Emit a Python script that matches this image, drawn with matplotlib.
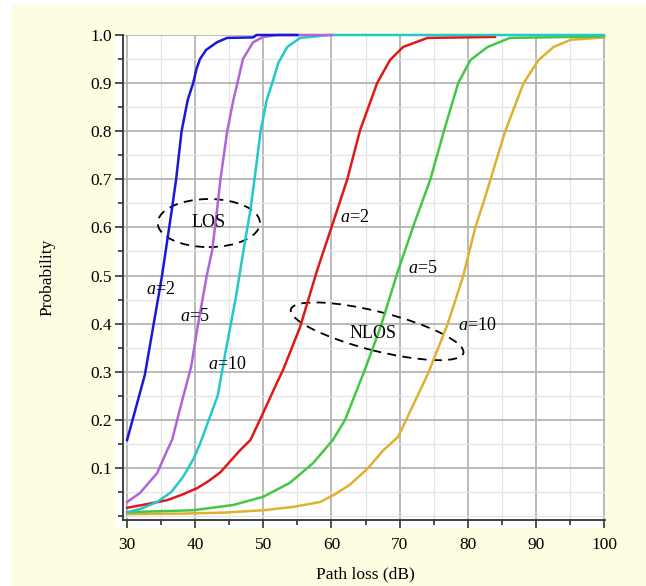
import numpy as np
import matplotlib
matplotlib.use("Agg")
import matplotlib.pyplot as plt
from matplotlib.patches import Ellipse, Rectangle
from matplotlib.transforms import IdentityTransform
from matplotlib.ticker import MultipleLocator, FixedLocator

plt.rcParams['font.family'] = ['Liberation Serif', 'DejaVu Serif']
plt.rcParams['mathtext.fontset'] = 'custom'
plt.rcParams['mathtext.it'] = 'Liberation Serif:italic'
plt.rcParams['mathtext.rm'] = 'Liberation Serif'

# LOS curves
los2_x = [30, 32.6, 35.1, 36.6, 37.2, 38.0, 38.9, 39.7, 40.2, 40.7, 41.6, 43.2, 44.7, 48.5, 49.0, 55.0]
los2_p = [0.158, 0.293, 0.497, 0.64, 0.70, 0.80, 0.865, 0.90, 0.93, 0.95, 0.969, 0.985, 0.994, 0.995, 1.0, 1.0]

los5_x = [30, 31.9, 34.4, 35.9, 36.6, 38.1, 39.4, 40.4, 41.7, 42.5, 43.2, 43.7, 44.7, 45.6, 46.2, 47.0, 48.5, 50.0, 52.0, 60.0]
los5_p = [0.029, 0.048, 0.089, 0.137, 0.158, 0.241, 0.31, 0.397, 0.50, 0.553, 0.636, 0.70, 0.80, 0.865, 0.90, 0.95, 0.985, 0.996, 1.0, 1.0]

los10_x = [30, 32.0, 34.4, 36.5, 38.2, 39.8, 40.7, 42.0, 43.3, 44.5, 45.9, 47.1, 48.1, 48.7, 49.6, 50.5, 51.3, 52.2, 53.5, 55.4, 59.8, 100]
los10_p = [0.008, 0.015, 0.029, 0.05, 0.081, 0.12, 0.15, 0.20, 0.25, 0.345, 0.449, 0.553, 0.636, 0.70, 0.80, 0.865, 0.90, 0.942, 0.975, 0.994, 1.0, 1.0]

# NLOS curves
nlos2_x = [30, 33, 35.9, 38, 40.3, 42, 43.7, 46.6, 48.1, 49.5, 52.0, 52.9, 55.4, 57.9, 60.0, 62.3, 64.2, 66.7, 68.6, 70.5, 74.1, 84]
nlos2_p = [0.017, 0.025, 0.033, 0.044, 0.058, 0.073, 0.091, 0.137, 0.158, 0.2, 0.277, 0.304, 0.393, 0.511, 0.60, 0.699, 0.802, 0.9, 0.948, 0.975, 0.994, 0.996]

nlos5_x = [30, 35, 39.7, 45.6, 50.0, 53.9, 57.3, 60.2, 62.0, 64.9, 67.2, 69.8, 72.2, 74.5, 76.5, 78.6, 80.4, 82.9, 86.2, 100]
nlos5_p = [0.008, 0.01, 0.012, 0.023, 0.04, 0.069, 0.11, 0.158, 0.2, 0.304, 0.393, 0.511, 0.61, 0.699, 0.80, 0.90, 0.948, 0.975, 0.994, 0.997]

nlos10_x = [30, 38, 44.1, 50.0, 54.4, 58.3, 60.5, 62.7, 65.4, 67.5, 69.8, 74.2, 77.0, 79.3, 81.1, 82.6, 85.5, 88.2, 90.4, 92.6, 95.1, 100]
nlos10_p = [0.004, 0.005, 0.007, 0.012, 0.019, 0.029, 0.045, 0.065, 0.10, 0.135, 0.165, 0.297, 0.397, 0.497, 0.599, 0.665, 0.80, 0.90, 0.948, 0.975, 0.99, 0.995]

y_ticks = [0.1, 0.2, 0.3, 0.4, 0.5, 0.6, 0.7, 0.8, 0.9, 1.0]
x_ticks = [30, 40, 50, 60, 70, 80, 90, 100]

W, H = 646, 586
fig = plt.figure(figsize=(W / 100, H / 100), dpi=100, facecolor='white')
fig.patches.append(Rectangle((12 / W, 0), 1 - 12 / W, 1 - 5 / H, transform=fig.transFigure,
                             facecolor='#fdfde2', edgecolor='none', zorder=-2))
fig.patches.append(Rectangle((115 / W, (H - 528) / H), (605 - 115) / W, (528 - 35) / H,
                             transform=fig.transFigure, facecolor='white', edgecolor='none', zorder=-1))

ax = fig.add_axes([123 / W, (H - 520) / H, (605 - 123) / W, (520 - 35) / H])
ax.set_facecolor('white')
ax.set_xlim(29.4, 100.15)
ax.set_ylim(-0.0083, 1.0)

ax.xaxis.set_major_locator(FixedLocator(x_ticks))
ax.xaxis.set_minor_locator(MultipleLocator(5))
ax.yaxis.set_major_locator(FixedLocator(y_ticks))
ax.yaxis.set_minor_locator(MultipleLocator(0.05))
ax.set_yticklabels(['%.1f' % v for v in y_ticks])
ax.grid(which='major', color='#b4b4b4', linewidth=1.3)
ax.grid(which='minor', color='#e4e4e4', linewidth=0.9)
ax.set_axisbelow(True)
ax.tick_params(which='major', direction='out', length=6, width=1.2, color='#333333',
               labelsize=12.5, pad=2)
ax.tick_params(axis='x', which='major', pad=6)
ax.tick_params(which='minor', direction='out', length=3.5, width=1.2, color='#333333')
for s in ['top', 'right']:
    ax.spines[s].set_visible(False)
for s in ['left', 'bottom']:
    ax.spines[s].set_color('#333333')
    ax.spines[s].set_linewidth(1.3)

lw = 1.8
ax.plot(nlos10_x, nlos10_p, color='#e0b030', lw=lw, clip_on=False)
ax.plot(nlos5_x, nlos5_p, color='#44c844', lw=lw, clip_on=False)
ax.plot(nlos2_x, nlos2_p, color='#e01818', lw=lw, clip_on=False)
ax.plot(los10_x, los10_p, color='#22c8cc', lw=lw, clip_on=False)
ax.plot(los5_x, los5_p, color='#b264d6', lw=lw, clip_on=False)
ax.plot(los2_x, los2_p, color='#1818d8', lw=lw, clip_on=False)

fs = 13
ax.text(32.8, 0.47, '$a$=2', fontsize=fs, va='center')
ax.text(37.8, 0.414, '$a$=5', fontsize=fs, va='center')
ax.text(41.9, 0.314, '$a$=10', fontsize=fs, va='center')
ax.text(61.3, 0.62, '$a$=2', fontsize=fs, va='center')
ax.text(71.3, 0.515, '$a$=5', fontsize=fs, va='center')
ax.text(78.5, 0.397, '$a$=10', fontsize=fs, va='center')

ax.text(42.0, 0.61, 'LOS', fontsize=fs, ha='center', va='center')
ax.add_patch(Ellipse((42.0, 0.609), 15.0, 0.1, fill=False, edgecolor='black',
                     lw=1.3, linestyle=(0, (5, 3.5))))

ax.text(66.1, 0.38, 'NLOS', fontsize=fs, ha='center', va='center')
fig.canvas.draw()
c = ax.transData.transform((66.7, 0.384))
ax.add_patch(Ellipse(c, 178, 39, angle=-14.2, fill=False, edgecolor='black', lw=1.3,
                     linestyle=(0, (5, 3.5)), transform=IdentityTransform()))

ax.set_xlabel('Path loss (dB)', fontsize=12.5)
ax.set_ylabel('Probability', fontsize=12.5)
ax.xaxis.set_label_coords(0.502, -0.095)
ax.yaxis.set_label_coords(-0.141, 0.5)

fig.savefig('out.png', dpi=100, facecolor=fig.get_facecolor())
